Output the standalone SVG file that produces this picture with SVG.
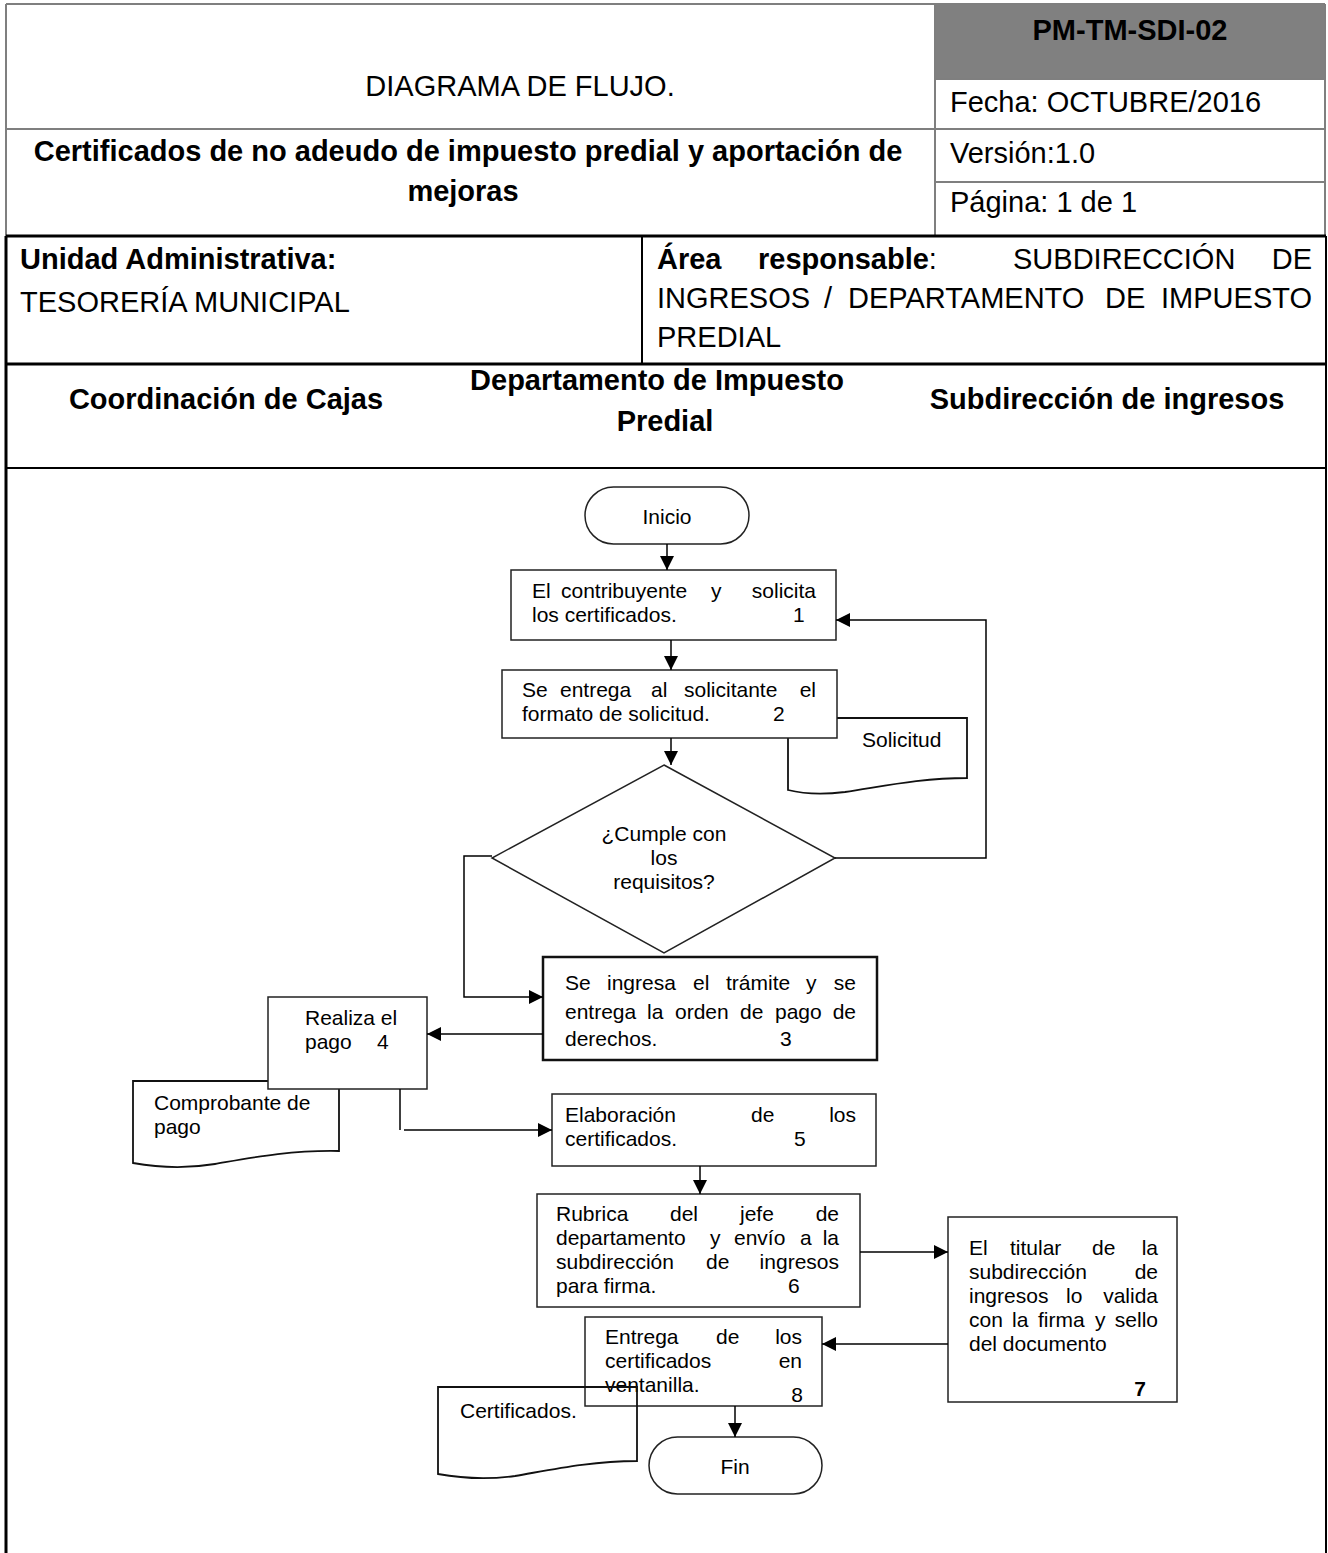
<svg xmlns="http://www.w3.org/2000/svg" width="1328" height="1553" viewBox="0 0 1328 1553">
<style>
.hdr{font-family:"Liberation Sans",Arial,sans-serif;font-size:29px;fill:#000}
.b{font-weight:bold}
.ft{font-family:"Liberation Sans",Arial,sans-serif;font-size:21px;fill:#000}
.box{fill:#fff;stroke:#222;stroke-width:1.5}
.doc{fill:#fff;stroke:#111;stroke-width:1.8}
.conn{fill:none;stroke:#000;stroke-width:1.5}
.gl{stroke:#7f7f7f;stroke-width:2;fill:none}
.bl{stroke:#000;stroke-width:3;fill:none}
.bm{stroke:#000;stroke-width:2;fill:none}
</style>
<defs>
<marker id="ah" markerUnits="userSpaceOnUse" markerWidth="14" markerHeight="14" refX="14" refY="7" orient="auto">
<path d="M0,0 L14,7 L0,14 Z" fill="#000"/>
</marker>
</defs>
<rect x="0" y="0" width="1328" height="1553" fill="#fff"/>
<g id="header">
<rect x="935" y="4" width="390" height="75" fill="#808080"/>
<path class="gl" d="M6,4 H1325 M6,4 V236 M1325,4 V236 M935,4 V236 M935,79 H1325 M6,129 H1325 M935,182 H1325"/>
<path class="bl" d="M6,236 H1326 M6,364 H1326 M6,236 V1553"/>
<path class="bm" d="M642,236 V364 M1326,236 V1553 M6,468 H1326"/>
<text class="hdr b" x="1130" y="40" text-anchor="middle">PM-TM-SDI-02</text>
<text class="hdr" x="520" y="96" text-anchor="middle">DIAGRAMA DE FLUJO.</text>
<text class="hdr" x="950" y="112">Fecha: OCTUBRE/2016</text>
<text class="hdr" x="950" y="163">Versión:1.0</text>
<text class="hdr" x="950" y="212">Página: 1 de 1</text>
<text class="hdr b" text-anchor="middle"><tspan x="468" y="161">Certificados de no adeudo de impuesto predial y aportación de</tspan><tspan x="463" y="201">mejoras</tspan></text>
<text class="hdr"><tspan class="b" x="20" y="269">Unidad Administrativa:</tspan><tspan x="20" y="312">TESORERÍA MUNICIPAL</tspan></text>
<text class="hdr"><tspan class="b" x="657" y="269">Área</tspan><tspan class="b" x="758" y="269">responsable</tspan><tspan>:</tspan><tspan x="1013" y="269">SUBDIRECCIÓN</tspan><tspan x="1312" y="269" text-anchor="end">DE</tspan><tspan x="657" y="308">INGRESOS</tspan><tspan x="824" y="308">/</tspan><tspan x="848" y="308">DEPARTAMENTO</tspan><tspan x="1105" y="308">DE</tspan><tspan x="1312" y="308" text-anchor="end">IMPUESTO</tspan><tspan x="657" y="347">PREDIAL</tspan></text>
<text class="hdr b" x="226" y="409" text-anchor="middle">Coordinación de Cajas</text>
<text class="hdr b" text-anchor="middle"><tspan x="657" y="390">Departamento de Impuesto</tspan><tspan x="665" y="431">Predial</tspan></text>
<text class="hdr b" x="1107" y="409" text-anchor="middle">Subdirección de ingresos</text>
</g>
<g id="n-inicio">
<rect class="box" x="585" y="487" width="164" height="57" rx="28.5"/>
<text class="ft" x="667" y="524" text-anchor="middle" font-size="22">Inicio</text>
</g>
<g id="n1">
<rect class="box" x="511" y="570" width="325" height="70"/>
<text class="ft"><tspan x="532" y="598">El</tspan><tspan x="561" y="598">contribuyente</tspan><tspan x="711" y="598">y</tspan><tspan x="816" y="598" text-anchor="end">solicita</tspan><tspan x="532" y="622">los certificados.</tspan><tspan x="793" y="622">1</tspan></text>
</g>
<g id="doc-solicitud">
<path class="doc" d="M788,718 H967 V778 C920,778 880,787 845,792 C820,795 800,793 788,790 Z"/>
<text class="ft" x="862" y="747">Solicitud</text>
</g>
<g id="n2">
<rect class="box" x="502" y="670" width="335" height="68"/>
<text class="ft"><tspan x="522" y="697">Se</tspan><tspan x="560" y="697">entrega</tspan><tspan x="651" y="697">al</tspan><tspan x="684" y="697">solicitante</tspan><tspan x="816" y="697" text-anchor="end">el</tspan><tspan x="522" y="721">formato de solicitud.</tspan><tspan x="773" y="721">2</tspan></text>
</g>
<g id="n-decision">
<polygon class="box" points="664,765 835,858 664,953 492,858"/>
<text class="ft" text-anchor="middle"><tspan x="664" y="841">¿Cumple con</tspan><tspan x="664" y="865">los</tspan><tspan x="664" y="889">requisitos?</tspan></text>
</g>
<g id="n3">
<rect x="543" y="957" width="334" height="103" fill="#fff" stroke="#111" stroke-width="2.5"/>
<text class="ft"><tspan x="565" y="990">Se</tspan><tspan x="607" y="990">ingresa</tspan><tspan x="693" y="990">el</tspan><tspan x="726" y="990">trámite</tspan><tspan x="806" y="990">y</tspan><tspan x="856" y="990" text-anchor="end">se</tspan><tspan x="565" y="1019">entrega</tspan><tspan x="647" y="1019">la</tspan><tspan x="675" y="1019">orden</tspan><tspan x="740" y="1019">de</tspan><tspan x="775" y="1019">pago</tspan><tspan x="856" y="1019" text-anchor="end">de</tspan><tspan x="565" y="1046">derechos.</tspan><tspan x="780" y="1046">3</tspan></text>
</g>
<g id="doc-comprobante">
<path class="doc" d="M133,1081 H339 V1151 C290,1150 250,1158 215,1164 C185,1169 155,1167 133,1163 Z"/>
<text class="ft"><tspan x="154" y="1110">Comprobante de</tspan><tspan x="154" y="1134">pago</tspan></text>
</g>
<g id="n4">
<rect class="box" x="268" y="997" width="159" height="92"/>
<text class="ft"><tspan x="305" y="1025">Realiza el</tspan><tspan x="305" y="1049">pago</tspan><tspan x="377" y="1049">4</tspan></text>
</g>
<g id="n5">
<rect class="box" x="552" y="1094" width="324" height="72"/>
<text class="ft"><tspan x="565" y="1122">Elaboración</tspan><tspan x="751" y="1122">de</tspan><tspan x="856" y="1122" text-anchor="end">los</tspan><tspan x="565" y="1146">certificados.</tspan><tspan x="794" y="1146">5</tspan></text>
</g>
<g id="n6">
<rect class="box" x="537" y="1194" width="323" height="113"/>
<text class="ft"><tspan x="556" y="1221">Rubrica</tspan><tspan x="670" y="1221">del</tspan><tspan x="740" y="1221">jefe</tspan><tspan x="839" y="1221" text-anchor="end">de</tspan><tspan x="556" y="1245">departamento</tspan><tspan x="710" y="1245">y</tspan><tspan x="734" y="1245">envío</tspan><tspan x="800" y="1245">a</tspan><tspan x="839" y="1245" text-anchor="end">la</tspan><tspan x="556" y="1269">subdirección</tspan><tspan x="706" y="1269">de</tspan><tspan x="839" y="1269" text-anchor="end">ingresos</tspan><tspan x="556" y="1293">para firma.</tspan><tspan x="788" y="1293">6</tspan></text>
</g>
<g id="n7">
<rect class="box" x="948" y="1217" width="229" height="185"/>
<text class="ft"><tspan x="969" y="1255">El</tspan><tspan x="1010" y="1255">titular</tspan><tspan x="1092" y="1255">de</tspan><tspan x="1158" y="1255" text-anchor="end">la</tspan><tspan x="969" y="1279">subdirección</tspan><tspan x="1158" y="1279" text-anchor="end">de</tspan><tspan x="969" y="1303">ingresos</tspan><tspan x="1066" y="1303">lo</tspan><tspan x="1158" y="1303" text-anchor="end">valida</tspan><tspan x="969" y="1327">con</tspan><tspan x="1012" y="1327">la</tspan><tspan x="1038" y="1327">firma</tspan><tspan x="1095" y="1327">y</tspan><tspan x="1158" y="1327" text-anchor="end">sello</tspan><tspan x="969" y="1351">del documento</tspan></text>
<text class="ft" x="1140" y="1396" text-anchor="middle" font-weight="bold" font-size="17">7</text>
</g>
<g id="n8">
<rect class="box" x="585" y="1317" width="237" height="89"/>
<text class="ft"><tspan x="605" y="1344">Entrega</tspan><tspan x="716" y="1344">de</tspan><tspan x="802" y="1344" text-anchor="end">los</tspan><tspan x="605" y="1368">certificados</tspan><tspan x="802" y="1368" text-anchor="end">en</tspan><tspan x="605" y="1392">ventanilla.</tspan></text>
<text class="ft" x="797" y="1402" text-anchor="middle" font-size="19">8</text>
</g>
<g id="doc-certificados">
<path d="M438,1387 H637 V1461 C590,1461 550,1470 515,1476 C485,1480 460,1478 438,1474 Z" fill="none" stroke="#111" stroke-width="1.8"/>
<text class="ft" x="460" y="1418">Certificados.</text>
</g>
<g id="n-fin">
<rect class="box" x="649" y="1437" width="173" height="57" rx="28.5"/>
<text class="ft" x="735" y="1474" text-anchor="middle" font-size="22">Fin</text>
</g>
<g id="connectors">
<path class="conn" d="M667,544 V570" marker-end="url(#ah)"/>
<path class="conn" d="M671,640 V670" marker-end="url(#ah)"/>
<path class="conn" d="M671,738 V765" marker-end="url(#ah)"/>
<path class="conn" d="M835,858 H986 V620 H836" marker-end="url(#ah)"/>
<path class="conn" d="M492,856 H464 V997 H543" marker-end="url(#ah)"/>
<path class="conn" d="M543,1034 H427" marker-end="url(#ah)"/>
<path class="conn" d="M400,1089 V1130"/>
<path class="conn" d="M404,1130 H552" marker-end="url(#ah)"/>
<path class="conn" d="M700,1166 V1194" marker-end="url(#ah)"/>
<path class="conn" d="M860,1252 H948" marker-end="url(#ah)"/>
<path class="conn" d="M948,1344 H822" marker-end="url(#ah)"/>
<path class="conn" d="M735,1406 V1437" marker-end="url(#ah)"/>
</g>
</svg>
